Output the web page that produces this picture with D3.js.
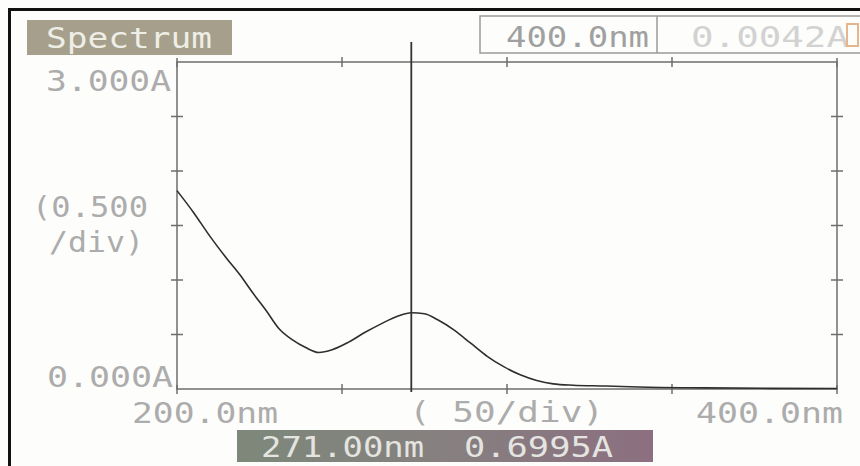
<!DOCTYPE html>
<html>
<head>
<meta charset="utf-8">
<script src="https://cdn.jsdelivr.net/npm/d3@7"></script>
<style>
  html, body { margin: 0; padding: 0; background: #fdfdfb; }
  svg { display: block; }
  text { font-family: "DejaVu Sans Mono", "Liberation Mono", monospace; }
</style>
</head>
<body>
<svg id="chart" width="860" height="466"></svg>
<script>
// ---- data ----
const wavelengths = [200,205,210,215,219,223,227,231,235,239,243,247,252,257,262,267,271,275,279,284,289,294,299,304,309,314,320,330,340,360,380,400];
const absorbance  = [1.82,1.62,1.40,1.20,1.05,0.88,0.72,0.55,0.45,0.38,0.335,0.36,0.43,0.52,0.60,0.67,0.70,0.69,0.635,0.54,0.42,0.30,0.205,0.13,0.078,0.047,0.035,0.028,0.018,0.010,0.006,0.004];
const xTicks = [200, 250, 300, 350, 400];
const yTicks = [0, 0.5, 1.0, 1.5, 2.0, 2.5, 3.0];
const xLabels = ["200.0nm", "( 50/div)", "400.0nm"];
const yLabels = ["3.000A", "(0.500", "/div)", "0.000A"];
const title = "Spectrum";
const headerWl = "400.0nm";
const headerAbs = "0.0042A";
const cursorWl = 271;
const cursorText = ["271.00nm", "0.6995A"];

// ---- layout ----
const svg = d3.select("#chart");
const L = 177, R = 837, T = 62, B = 389;
const x = d3.scaleLinear().domain([200, 400]).range([L, R]);
const y = d3.scaleLinear().domain([0, 3]).range([B, T]);
const labelColor = "#acacac";

// frame border (photo edge)
svg.append("rect").attr("x", 0).attr("y", 0).attr("width", 860).attr("height", 466).attr("fill", "#fdfdfb");
svg.append("line").attr("x1", 8).attr("x2", 860).attr("y1", 9.5).attr("y2", 9.5).attr("stroke", "#111").attr("stroke-width", 3);
svg.append("line").attr("x1", 9.5).attr("x2", 9.5).attr("y1", 8).attr("y2", 466).attr("stroke", "#111").attr("stroke-width", 3);

// title box
svg.append("rect").attr("x", 27).attr("y", 20).attr("width", 205).attr("height", 35).attr("fill", "#a59f8b");
svg.append("text").attr("x", 46).attr("y", 48).attr("font-size", 28).attr("fill", "#eeeee6")
  .attr("textLength", 166).attr("lengthAdjust", "spacingAndGlyphs").text(title);

// header box
svg.append("rect").attr("x", 480).attr("y", 16).attr("width", 382).attr("height", 37)
  .attr("fill", "none").attr("stroke", "#9a9a9a").attr("stroke-width", 1.5);
svg.append("line").attr("x1", 657).attr("x2", 657).attr("y1", 16).attr("y2", 53).attr("stroke", "#9a9a9a").attr("stroke-width", 1.5);
svg.append("text").attr("x", 506).attr("y", 47).attr("font-size", 29).attr("fill", "#a0a0a0")
  .attr("textLength", 143).attr("lengthAdjust", "spacingAndGlyphs").text(headerWl);
svg.append("text").attr("x", 691).attr("y", 47).attr("font-size", 29).attr("fill", "#d2d2d2")
  .attr("textLength", 158).attr("lengthAdjust", "spacingAndGlyphs").text(headerAbs);
svg.append("rect").attr("x", 847).attr("y", 24).attr("width", 11).attr("height", 22)
  .attr("fill", "none").attr("stroke", "#e6b58c").attr("stroke-width", 2);

// axes frame
const g = svg.append("g");
const axisColor = "#6e6e6e";
g.append("rect").attr("x", L).attr("y", T).attr("width", R - L).attr("height", B - T)
  .attr("fill", "none").attr("stroke", axisColor).attr("stroke-width", 1.5);

// ticks crossing the frame
const innerX = xTicks.slice(1, -1);
const innerY = yTicks.slice(1, -1);
innerX.forEach(v => {
  [B, T].forEach(yy => {
    g.append("line").attr("x1", x(v)).attr("x2", x(v)).attr("y1", yy - 5).attr("y2", yy + 5)
      .attr("stroke", axisColor).attr("stroke-width", 1.5);
  });
});
innerY.forEach(v => {
  [L, R].forEach(xx => {
    g.append("line").attr("x1", xx - 6).attr("x2", xx + 6).attr("y1", y(v)).attr("y2", y(v))
      .attr("stroke", axisColor).attr("stroke-width", 1.5);
  });
});
// corner crosses
[[L, B], [L, T], [R, B], [R, T]].forEach(([xx, yy]) => {
  g.append("line").attr("x1", xx).attr("x2", xx).attr("y1", yy - 4).attr("y2", yy + 5).attr("stroke", axisColor).attr("stroke-width", 1.5);
});

// spectrum curve
const pts = wavelengths.map((w, i) => [w, absorbance[i]]);
g.append("path").datum(pts)
  .attr("d", d3.line().x(d => x(d[0])).y(d => y(d[1])).curve(d3.curveMonotoneX))
  .attr("fill", "none").attr("stroke", "#2e2e2e").attr("stroke-width", 1.6);

// cursor
g.append("line").attr("x1", x(cursorWl)).attr("x2", x(cursorWl)).attr("y1", 42).attr("y2", B + 3)
  .attr("stroke", "#333").attr("stroke-width", 1.8);

// y labels
const yl = [
  {t: yLabels[0], x: 46, y: 91, w: 125},
  {t: yLabels[1], x: 32, y: 217, w: 116},
  {t: yLabels[2], x: 49, y: 252, w: 95},
  {t: yLabels[3], x: 47, y: 387, w: 126}
];
yl.forEach(d => svg.append("text").attr("x", d.x).attr("y", d.y).attr("font-size", 29)
  .attr("fill", labelColor).attr("textLength", d.w).attr("lengthAdjust", "spacingAndGlyphs").text(d.t));

// x labels
const xl = [
  {t: xLabels[0], x: 132, y: 423, w: 146},
  {t: xLabels[1], x: 409, y: 422, w: 195},
  {t: xLabels[2], x: 696, y: 423, w: 147}
];
xl.forEach(d => svg.append("text").attr("x", d.x).attr("y", d.y).attr("font-size", 28)
  .attr("fill", labelColor).attr("textLength", d.w).attr("lengthAdjust", "spacingAndGlyphs").text(d.t));

// cursor readout box
const defs = svg.append("defs");
const grad = defs.append("linearGradient").attr("id", "rb").attr("x1", "0%").attr("x2", "100%");
grad.append("stop").attr("offset", "0%").attr("stop-color", "#7d887a");
grad.append("stop").attr("offset", "50%").attr("stop-color", "#868080");
grad.append("stop").attr("offset", "100%").attr("stop-color", "#8c6f80");
svg.append("rect").attr("x", 237).attr("y", 430).attr("width", 416).attr("height", 32).attr("fill", "url(#rb)");
svg.append("text").attr("x", 261).attr("y", 457).attr("font-size", 28).attr("fill", "#e4e4e0")
  .attr("textLength", 163).attr("lengthAdjust", "spacingAndGlyphs").text(cursorText[0]);
svg.append("text").attr("x", 464).attr("y", 457).attr("font-size", 28).attr("fill", "#e4e4e0")
  .attr("textLength", 149).attr("lengthAdjust", "spacingAndGlyphs").text(cursorText[1]);
</script>
</body>
</html>
